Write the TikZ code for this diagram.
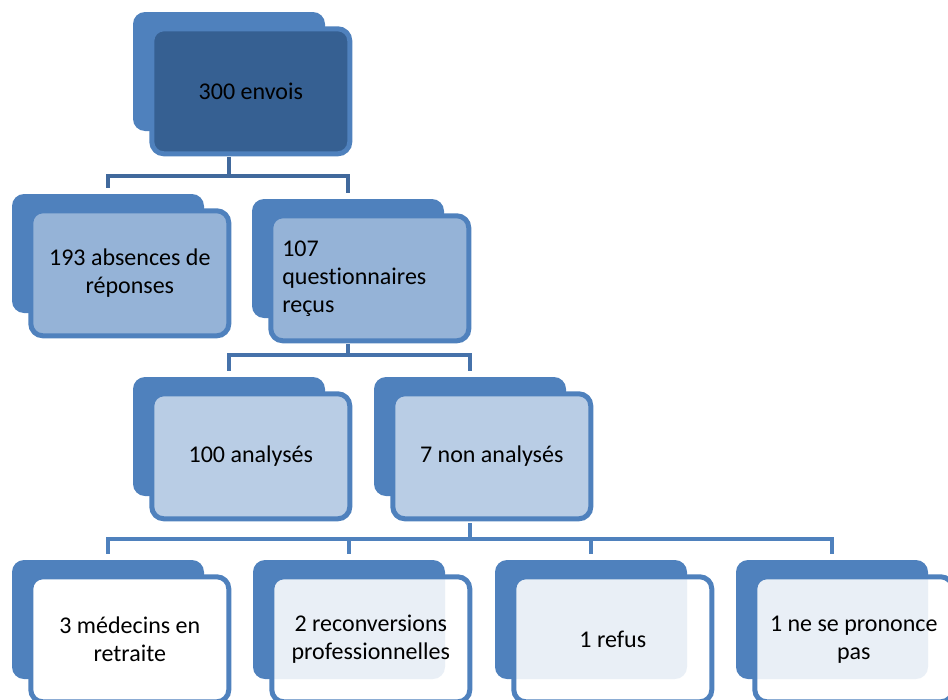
\documentclass[tikz,border=0pt]{standalone}
\usepackage{fontspec}
\setmainfont[Ligatures=NoCommon]{Carlito}
\usetikzlibrary{positioning}

\definecolor{backblue}{HTML}{4F81BD}
\definecolor{topfill}{HTML}{366092}
\definecolor{midfill}{HTML}{95B3D7}
\definecolor{lowfill}{HTML}{B9CDE5}
\definecolor{linkdark}{HTML}{41699C}
\definecolor{linkmid}{HTML}{4672AA}

\tikzset{
  backbox/.style={fill=backblue, rounded corners=12pt, minimum width=192pt,
    minimum height=119pt, inner sep=0pt},
  frontbox/.style={draw=backblue, line width=5pt, rounded corners=12pt,
    minimum width=198pt, minimum height=125pt, inner sep=0pt, align=center,
    font=\fontsize{24}{28}\selectfont},
  seethru/.style={fill=white, fill opacity=0.88, text opacity=1},
  link/.style={line width=4pt, draw=#1},
}

\begin{document}
\begin{tikzpicture}[x=1pt, y=-1pt]

  \useasboundingbox (0,0) rectangle (948,699);

  %-------------------------
  % Back boxes
  %-------------------------
  \node[backbox] (envoisB)       at (229,71.5)  {};
  \node[backbox] (absencesB)     at (108,253.5) {};
  \node[backbox] (recusB)        at (348,258.5) {};
  \node[backbox] (analysesB)     at (229,436.5) {};
  \node[backbox] (nonanalysesB)  at (470,436.5) {};
  \node[backbox] (retraiteB)     at (108,619.5) {};
  \node[backbox] (reconversionB) at (349,619.5) {};
  \node[backbox] (refusB)        at (591,619.5) {};
  \node[backbox] (neutreB)       at (832,619.5) {};

  %-------------------------
  % Connectors
  %-------------------------
  \draw[link=linkdark] (envoisB.center |- 0,157) -- ++(0,19)
    -| ([yshift=6pt]absencesB.north);
  \draw[link=linkdark] (envoisB.center |- 0,157) -- ++(0,19)
    -| ([yshift=6pt]recusB.north);

  \draw[link=linkmid] (recusB.center |- 0,344) -- ++(0,11)
    -| ([yshift=6pt]analysesB.north);
  \draw[link=linkmid] (recusB.center |- 0,344) -- ++(0,11)
    -| ([yshift=6pt]nonanalysesB.north);

  \foreach \kid in {retraiteB,reconversionB,refusB,neutreB}
    \draw[link=backblue] (nonanalysesB.center |- 0,523) -- ++(0,16)
      -| ([yshift=6pt]\kid.north);

  %-------------------------
  % Front boxes
  %-------------------------
  \node[frontbox, fill=topfill] (envois)
    at ([xshift=118pt,yshift=-79.5pt]envoisB.north west) {300 envois};

  \node[frontbox, fill=midfill] (absences)
    at ([xshift=118pt,yshift=-79.5pt]absencesB.north west)
    {193 absences de\\r\'eponses};
  \node[frontbox, fill=midfill, text width=175pt, align=left] (recus)
    at ([xshift=118pt,yshift=-79.5pt]recusB.north west)
    {107\\questionnaires\\re\c{c}us};

  \node[frontbox, fill=lowfill] (analyses)
    at ([xshift=118pt,yshift=-79.5pt]analysesB.north west) {100 analys\'es};
  \node[frontbox, fill=lowfill] (nonanalyses)
    at ([xshift=118pt,yshift=-79.5pt]nonanalysesB.north west) {7 non analys\'es};

  \node[frontbox, fill=white] (retraite)
    at ([xshift=118pt,yshift=-79.5pt]retraiteB.north west)
    {3 m\'edecins en\\retraite};
  \node[frontbox, seethru] (reconversion)
    at ([xshift=118pt,yshift=-79.5pt]reconversionB.north west)
    {2 reconversions\\professionnelles};
  \node[frontbox, seethru] (refus)
    at ([xshift=118pt,yshift=-79.5pt]refusB.north west) {1 refus};
  \node[frontbox, seethru] (neutre)
    at ([xshift=118pt,yshift=-79.5pt]neutreB.north west)
    {1 ne se prononce\\pas};

\end{tikzpicture}
\end{document}
